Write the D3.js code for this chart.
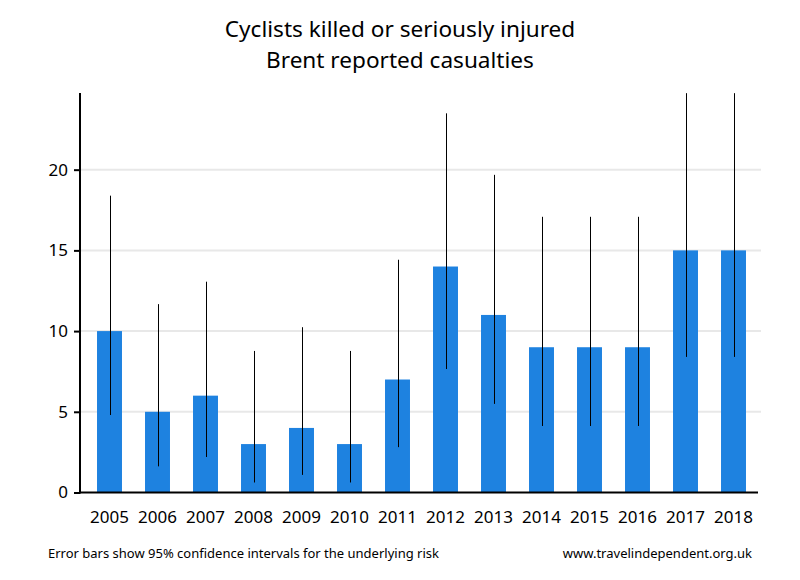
<!DOCTYPE html>
<html><head><meta charset="utf-8">
<script src="https://cdn.jsdelivr.net/npm/d3@7"></script>
<style>body{margin:0;background:#fff}svg{display:block}text{font-family:"Noto Sans","Open Sans",sans-serif}</style>
</head><body><svg id="c" width="800" height="580"></svg>
<script>
const years = ["2005","2006","2007","2008","2009","2010","2011","2012","2013","2014","2015","2016","2017","2018"];
const casualties = [10,5,6,3,4,3,7,14,11,9,9,9,15,15];
const ciLow  = [4.8,1.62,2.2,0.62,1.09,0.62,2.81,7.65,5.49,4.12,4.12,4.12,8.4,8.4];
const ciHigh = [18.39,11.67,13.06,8.77,10.24,8.77,14.42,23.49,19.68,17.08,17.08,17.08,24.74,24.74];
const yTicks = [0,5,10,15,20];

const svg = d3.select("#c");
const x = d3.scaleBand().domain(years).range([85.5,757.5]).paddingInner(0).paddingOuter(0);
const y = d3.scaleLinear().domain([0,24.75]).range([492.5,93]);
const barW = x.bandwidth()*0.52;

svg.append("g").selectAll("line").data(yTicks.filter(d=>d>0)).join("line")
  .attr("x1",80).attr("x2",761).attr("y1",d=>y(d)).attr("y2",d=>y(d))
  .attr("stroke","#e8e8e8").attr("stroke-width",2);

svg.append("g").selectAll("rect").data(years).join("rect")
  .attr("x",(d)=>x(d)+x.bandwidth()/2-barW/2).attr("width",barW)
  .attr("y",(d,i)=>y(casualties[i])).attr("height",(d,i)=>y(0)-y(casualties[i]))
  .attr("fill","#1e82e0");

svg.append("g").selectAll("line").data(years).join("line")
  .attr("x1",d=>Math.round(x(d)+x.bandwidth()/2)+0.5).attr("x2",d=>Math.round(x(d)+x.bandwidth()/2)+0.5)
  .attr("y1",(d,i)=>y(ciLow[i])).attr("y2",(d,i)=>y(ciHigh[i]))
  .attr("stroke","#000").attr("stroke-width",1);

const ya = svg.append("g").attr("transform","translate(80,0)")
  .call(d3.axisLeft(y).tickValues(yTicks).tickSize(6).tickPadding(6).tickSizeOuter(0));
ya.select(".domain").attr("stroke-width",2).attr("d","M0,93V493.5");
ya.selectAll(".tick line").attr("stroke-width",2);
ya.selectAll("text").attr("font-size",17).attr("fill","#000");

const xa = svg.append("g").attr("transform","translate(0,492.5)")
  .call(d3.axisBottom(x).tickSize(0).tickPadding(18));
xa.select(".domain").attr("stroke-width",2).attr("d","M79,0H758");
xa.selectAll("text").attr("font-size",17).attr("fill","#000");

svg.append("text").attr("x",400).attr("y",37).attr("text-anchor","middle").attr("font-size",22.6).text("Cyclists killed or seriously injured");
svg.append("text").attr("x",400).attr("y",68).attr("text-anchor","middle").attr("font-size",22.6).text("Brent reported casualties");

svg.append("text").attr("x",48).attr("y",558).attr("font-size",13).text("Error bars show 95% confidence intervals for the underlying risk");
svg.append("text").attr("x",752).attr("y",558).attr("text-anchor","end").attr("font-size",13).text("www.travelindependent.org.uk");
</script></body></html>
